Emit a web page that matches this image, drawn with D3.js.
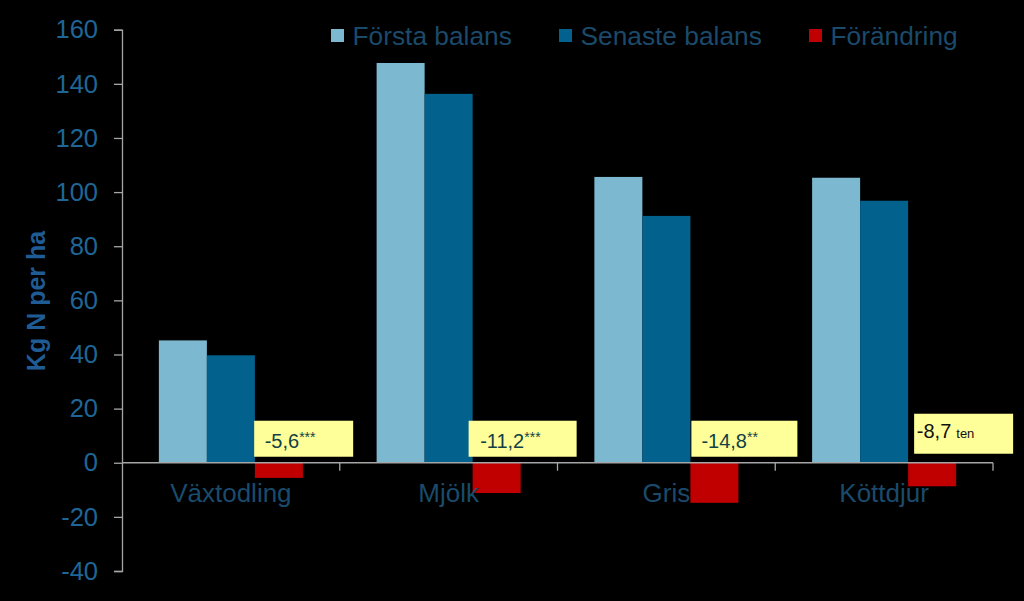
<!DOCTYPE html>
<html>
<head>
<meta charset="utf-8">
<script src="https://cdn.jsdelivr.net/npm/d3@7/dist/d3.min.js"></script>
<style>
  html, body { margin: 0; padding: 0; background: #000; }
  svg { display: block; font-family: "Liberation Sans", Arial, sans-serif; }
</style>
</head>
<body>
<svg id="chart" width="1024" height="601"></svg>
<script>
// ---- data ----
const categories = ["Växtodling", "Mjölk", "Gris", "Köttdjur"];
const seriesNames = ["Första balans", "Senaste balans", "Förändring"];
const forstaBalans = [45.2, 147.7, 105.6, 105.3];
const senasteBalans = [39.7, 136.3, 91.2, 96.8];
const forandring = [-5.6, -11.2, -14.8, -8.7];
const changeLabels = ["-5,6", "-11,2", "-14,8", "-8,7"];
const significance = ["***", "***", "**", "ten"];
const yTicks = [-40, -20, 0, 20, 40, 60, 80, 100, 120, 140, 160];

// ---- layout / style ----
const colors = ["#7cb9d1", "#03618d", "#c00000"];
const axisColor = "#a6a6a6";
const tickLabelColor = "#1f6696";
const catLabelColor = "#1a4b6c";
const legendTextColor = "#1b4a6a";
const titleColor = "#1f5c96";
const boxFill = "#ffff99";
const boxLayout = [
  { dx: -0.7, w: 99,  top: 42, h: 36, padL: 10.5, base: 27, color: "#133f47", supSize: 14, supDy: -6, supDx: 0 },
  { dx: -4,   w: 108, top: 42, h: 36, padL: 11.5, base: 27, color: "#133f47", supSize: 14, supDy: -6, supDx: 0 },
  { dx: 1,    w: 106, top: 42, h: 36, padL: 10,   base: 27, color: "#133f47", supSize: 14, supDy: -6, supDx: 0 },
  { dx: 6,    w: 99,  top: 49, h: 40, padL: 2.7,  base: 24, color: "#111111", supSize: 13, supDy: 0,  supDx: 5 }
];

const svg = d3.select("#chart");
svg.append("rect").attr("width", 1024).attr("height", 601).attr("fill", "#000");

const y = d3.scaleLinear().domain([-40, 160]).range([571, 29.7]);
const x = d3.scaleBand().domain(categories).range([122, 993]).padding(0);
const x1 = d3.scaleBand().domain(seriesNames).range([0, x.bandwidth()])
  .paddingInner(0).paddingOuter(0.768);

const seriesValues = [forstaBalans, senasteBalans, forandring];

// bars
seriesNames.forEach((s, si) => {
  svg.append("g").selectAll("rect")
    .data(categories.map((c, i) => ({ c, v: seriesValues[si][i] })))
    .join("rect")
    .attr("x", d => x(d.c) + x1(s))
    .attr("width", x1.bandwidth())
    .attr("y", d => y(Math.max(0, d.v)))
    .attr("height", d => Math.abs(y(d.v) - y(0)))
    .attr("fill", colors[si]);
});

// y axis
const yAxis = svg.append("g").attr("transform", "translate(122,0)")
  .call(d3.axisLeft(y).tickValues(yTicks).tickSize(8).tickPadding(16).tickFormat(d => String(d)));
yAxis.select(".domain").attr("stroke", axisColor).attr("stroke-width", 1.3);
yAxis.selectAll(".tick line").attr("stroke", axisColor).attr("stroke-width", 1.3);
yAxis.selectAll(".tick text").attr("fill", tickLabelColor)
  .attr("font-size", 25.5).attr("font-family", "Liberation Sans, Arial, sans-serif");

// x axis at zero
const xAxisG = svg.append("g");
xAxisG.append("line").attr("x1", 122).attr("x2", 993)
  .attr("y1", y(0)).attr("y2", y(0)).attr("stroke", axisColor).attr("stroke-width", 1.3);
xAxisG.selectAll("line.tk").data(categories).join("line").attr("class", "tk")
  .attr("x1", d => x(d) + x.bandwidth()).attr("x2", d => x(d) + x.bandwidth())
  .attr("y1", y(0)).attr("y2", y(0) + 8).attr("stroke", axisColor).attr("stroke-width", 1.3);

// annotation boxes
categories.forEach((c, i) => {
  const L = boxLayout[i];
  const bx = x(c) + x1("Förändring") + L.dx;
  const by = y(0) - L.top;
  const g = svg.append("g");
  g.append("rect").attr("x", bx).attr("y", by).attr("width", L.w).attr("height", L.h).attr("fill", boxFill);
  const t = g.append("text").attr("x", bx + L.padL).attr("y", by + L.base)
    .attr("fill", L.color).attr("font-size", 20);
  t.append("tspan").text(changeLabels[i]);
  t.append("tspan").attr("font-size", L.supSize).attr("dx", L.supDx)
    .attr("dy", L.supDy).text(significance[i]);
});

// category labels
svg.append("g").selectAll("text").data(categories).join("text")
  .attr("x", d => x(d) + x.bandwidth() / 2).attr("y", 502)
  .attr("text-anchor", "middle").attr("fill", catLabelColor)
  .attr("font-size", 26).text(d => d);

// axis title
svg.append("text").attr("transform", "translate(45,301) rotate(-90)")
  .attr("text-anchor", "middle").attr("fill", titleColor)
  .attr("font-size", 25).attr("font-weight", "bold").text("Kg N per ha");

// legend
const legendX = [331, 559, 809];
const legend = svg.append("g");
seriesNames.forEach((s, i) => {
  legend.append("rect").attr("x", legendX[i]).attr("y", 29).attr("width", 13).attr("height", 13).attr("fill", colors[i]);
  legend.append("text").attr("x", legendX[i] + 21.5).attr("y", 44.5)
    .attr("fill", legendTextColor).attr("font-size", 26.3).text(s);
});
</script>
</body>
</html>
